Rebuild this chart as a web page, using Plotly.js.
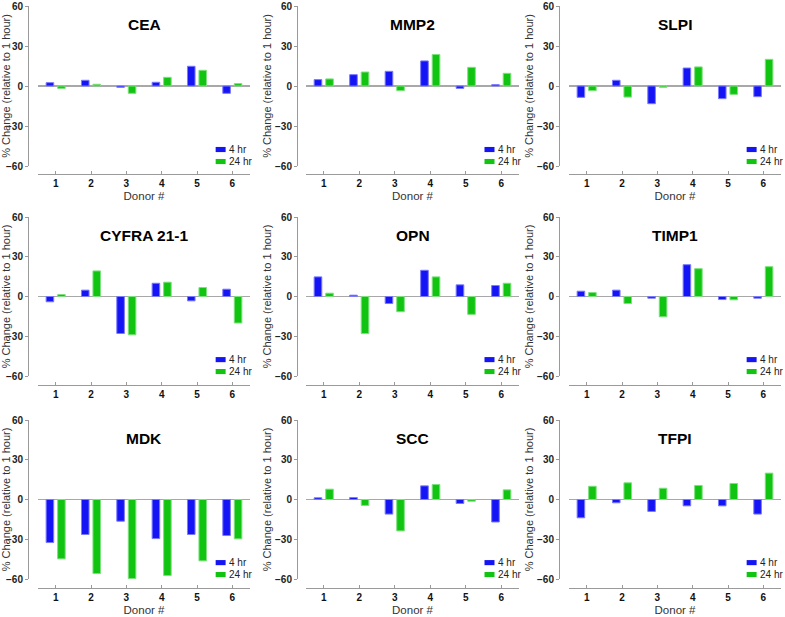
<!DOCTYPE html>
<html>
<head>
<meta charset="utf-8">
<script src="https://cdn.plot.ly/plotly-3.0.1.min.js"></script>
<style>html,body{margin:0;padding:0;background:#fff;}#chart{width:785px;height:617px;}</style>
</head>
<body>
<div id="chart"></div>
<script>
// ---- data ----
const donors = [1, 2, 3, 4, 5, 6];
const markers = ["CEA", "MMP2", "SLPI", "CYFRA 21-1", "OPN", "TIMP1", "MDK", "SCC", "TFPI"];
const seriesNames = ["4 hr", "24 hr"];
const yTicks = [-60, -30, 0, 30, 60];

const cea_4hr    = [2.5, 4.3, -1.0, 2.8, 14.8, -5.5];
const cea_24hr   = [-1.8, 1.3, -5.5, 6.5, 11.8, 1.8];
const mmp2_4hr   = [4.8, 8.5, 11.0, 18.8, -1.8, 1.0];
const mmp2_24hr  = [5.3, 10.5, -3.5, 23.6, 14.0, 9.5];
const slpi_4hr   = [-8.5, 4.3, -13.3, 13.5, -9.5, -8.0];
const slpi_24hr  = [-3.5, -8.3, -1.0, 14.3, -6.3, 20.0];
const cyfra_4hr  = [-4.0, 4.8, -27.9, 10.0, -3.3, 5.5];
const cyfra_24hr = [1.5, 19.3, -28.9, 10.8, 6.8, -20.0];
const opn_4hr    = [14.8, 1.0, -5.3, 19.8, 8.8, 8.3];
const opn_24hr   = [2.5, -28.0, -11.5, 14.8, -13.5, 10.0];
const timp1_4hr  = [4.0, 4.8, -1.3, 24.0, -2.3, -1.3];
const timp1_24hr = [3.0, -5.3, -15.3, 21.0, -2.5, 22.5];
const mdk_4hr    = [-32.5, -26.4, -16.4, -29.5, -26.4, -27.2];
const mdk_24hr   = [-44.8, -55.9, -59.7, -57.4, -46.3, -29.7];
const scc_4hr    = [1.3, 1.5, -11.0, 10.3, -3.0, -17.0];
const scc_24hr   = [7.8, -4.5, -23.7, 11.3, -1.3, 7.3];
const tfpi_4hr   = [-13.8, -2.5, -9.0, -4.8, -4.8, -11.0];
const tfpi_24hr  = [10.0, 12.6, 8.5, 10.6, 12.1, 19.9];

const values4 = [cea_4hr, mmp2_4hr, slpi_4hr, cyfra_4hr, opn_4hr, timp1_4hr, mdk_4hr, scc_4hr, tfpi_4hr];
const values24 = [cea_24hr, mmp2_24hr, slpi_24hr, cyfra_24hr, opn_24hr, timp1_24hr, mdk_24hr, scc_24hr, tfpi_24hr];

// ---- styling / geometry ----
const W = 785, H = 617;
const BLUE = "#1414f5", GREEN = "#12c412";
const BLUE_EDGE = "#7a7aff", GREEN_EDGE = "#7ee07e";
const FONT = "Arial, 'Liberation Sans', sans-serif";
const AXC = "#9a9a9a";
const cols = [{ya: 28, x0: 38, x1: 250}, {ya: 297, x0: 306, x1: 519}, {ya: 559, x0: 569, x1: 781}];
const rows = [{top: 6, bot: 166, xl: 174}, {top: 217, bot: 376, xl: 385}, {top: 420, bot: 579, xl: 588}];

const data = [];
const layout = {
  width: W, height: H,
  margin: {l: 0, r: 0, t: 0, b: 0},
  paper_bgcolor: "#fff", plot_bgcolor: "#fff",
  showlegend: false,
  barmode: "group", bargap: 0.35, bargroupgap: 0.34,
  font: {family: FONT, color: "#111"},
  annotations: [], shapes: []
};

markers.forEach((name, i) => {
  const r = Math.floor(i / 3), c = i % 3;
  const col = cols[c], row = rows[r];
  const sfx = i === 0 ? "" : String(i + 1);
  const xa = "x" + sfx, ya = "y" + sfx;

  data.push({type: "bar", name: seriesNames[0], x: donors, y: values4[i], xaxis: xa, yaxis: ya,
    marker: {color: BLUE, line: {color: BLUE_EDGE, width: 1}}, hoverinfo: "y"});
  data.push({type: "bar", name: seriesNames[1], x: donors, y: values24[i], xaxis: xa, yaxis: ya,
    marker: {color: GREEN, line: {color: GREEN_EDGE, width: 1}}, hoverinfo: "y"});

  layout["xaxis" + sfx] = {
    domain: [col.x0 / W, col.x1 / W],
    anchor: "free", position: (H - row.xl) / H,
    range: [0.5, 6.5], fixedrange: true,
    tickvals: donors, ticktext: donors.map(String),
    ticks: "inside", ticklen: 3, tickcolor: AXC,
    showline: true, linecolor: AXC, linewidth: 1,
    showgrid: false, zeroline: false,
    tickfont: {family: FONT, size: 10, color: "#111", weight: "bold"},
    title: r === 1 ? {text: ""} : {text: "Donor #", font: {family: FONT, size: 11.5, color: "#333"}, standoff: 3}
  };
  layout["yaxis" + sfx] = {
    domain: [(H - row.bot) / H, (H - row.top) / H],
    anchor: "free", position: col.ya / W,
    range: [-60, 60], fixedrange: true,
    tickvals: yTicks,
    ticks: "outside", ticklen: 3, tickcolor: AXC,
    showline: true, linecolor: AXC, linewidth: 1,
    showgrid: false,
    zeroline: true, zerolinecolor: "#a8a8a8", zerolinewidth: 1.5,
    tickfont: {family: FONT, size: 10, color: "#222", weight: "bold"},
    title: {text: "% Change (relative to 1 hour)", font: {family: FONT, size: 11, color: "#333"}, standoff: 0}
  };

  // panel title
  layout.annotations.push({
    text: name, xref: xa + " domain", yref: ya + " domain", x: 0.5, y: 0.883,
    xanchor: "center", yanchor: "middle", showarrow: false,
    font: {family: FONT, size: 15.5, color: "#000", weight: "bold"}
  });

  // per-panel legend
  const legendRows = [{label: seriesNames[0], color: BLUE, yc: 0.103}, {label: seriesNames[1], color: GREEN, yc: 0.028}];
  legendRows.forEach(lr => {
    layout.shapes.push({
      type: "rect", xref: xa + " domain", yref: ya + " domain",
      x0: 0.838, x1: 0.885, y0: lr.yc - 0.016, y1: lr.yc + 0.016,
      fillcolor: lr.color, line: {width: 0}
    });
    layout.annotations.push({
      text: lr.label, xref: xa + " domain", yref: ya + " domain", x: 0.893, y: lr.yc,
      xanchor: "left", yanchor: "middle", showarrow: false,
      font: {family: FONT, size: 10, color: "#222"}
    });
  });
});

Plotly.newPlot("chart", data, layout, {staticPlot: true, displayModeBar: false});
</script>
</body>
</html>
